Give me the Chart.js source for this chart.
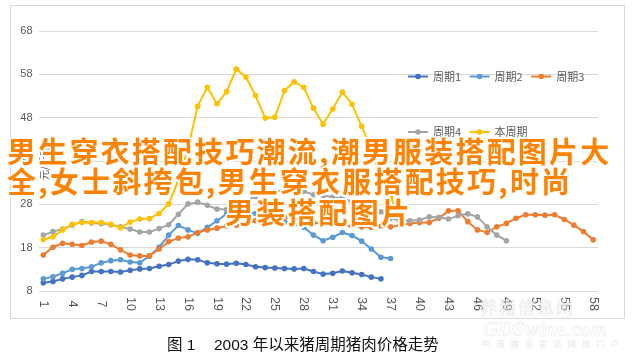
<!DOCTYPE html>
<html>
<head>
<meta charset="utf-8">
<script src="https://cdn.jsdelivr.net/npm/chart.js@4/dist/chart.umd.min.js"></script>
<style>
html,body{margin:0;padding:0;background:#fff;}
#wrap{position:relative;width:634px;height:358px;overflow:hidden;font-family:"Noto Sans CJK SC","Noto Sans",sans-serif;}
#frame{position:absolute;left:10px;top:5px;width:615px;height:314px;box-sizing:border-box;border:1px solid #d9d9d9;}
#c{position:absolute;left:0;top:0;}
.ov{position:absolute;white-space:nowrap;font-family:"Noto Sans CJK SC",sans-serif;font-weight:bold;font-size:29px;letter-spacing:2.2px;line-height:30px;color:#ff8200;
text-shadow:-1.5px -1.5px 0 #fff,1.5px -1.5px 0 #fff,-1.5px 1.5px 0 #fff,1.5px 1.5px 0 #fff,0 1.8px 0 #fff,0 -1.8px 0 #fff,1.8px 0 0 #fff,-1.8px 0 0 #fff;}
.cap{position:absolute;white-space:pre;font-family:"Liberation Sans","Noto Sans CJK SC",sans-serif;font-size:15.5px;line-height:20px;color:#111;}
.wm{position:absolute;white-space:nowrap;}
</style>
</head>
<body>
<div id="wrap">
  <div id="frame"></div>
  <canvas id="c" width="634" height="358"></canvas>
  <div class="wm" style="left:480px;top:294px;font-size:17px;letter-spacing:2px;color:rgba(255,255,255,0);-webkit-text-stroke:0.6px #e6e6e6;">养猪信息网</div>
  <div class="wm" style="left:483px;top:317px;font-family:'Liberation Serif',serif;font-style:italic;font-weight:bold;font-size:21px;color:rgba(255,255,255,0);-webkit-text-stroke:0.6px #ebebeb;">GDSwine.com</div>
  <div class="wm" style="left:482px;top:338px;font-size:8px;letter-spacing:6.3px;color:#e4e4e4;">中国猪业资讯网络门户</div>
  <div class="cap" style="left:167px;top:335px;">图 1</div>
  <div class="cap" style="left:214px;top:335px;">2003 年以来猪周期猪肉价格走势</div>
  <div class="ov" style="left:7px;top:135px;">男生穿衣搭配技巧潮流,潮男服装搭配图片大</div>
  <div class="ov" style="left:7px;top:165px;">全,女士斜挎包,男生穿衣服搭配技巧,时尚</div>
  <div class="ov" style="left:225px;top:195.5px;">男装搭配图片</div>
</div>
<script>
const categories = ['1','2','3','4','5','6','7','8','9','10','11','12','13','14','15','16','17','18','19','20',
  '21','22','23','24','25','26','27','28','29','30','31','32','33','34','35','36','37','38','39','40',
  '41','42','43','44','45','46','47','48','49','50','51','52','53','54','55','56','57','58'];
const xTickLabels = ['1','4','7','10','13','16','19','22','25','28','31','34','37','40','43','46','49','52','55','58'];
const yTicks = [8,18,28,38,48,58,68];
const seriesNames = ['周期1','周期2','周期3','周期4','本周期'];
const seriesColors = ['#4472C4','#5B9BD5','#ED7D31','#A5A5A5','#FFC000'];
const yAxisTitle = '元/千克';

const cycle1 = [9.9,10.2,10.8,11.2,11.6,12.5,12.5,12.5,12.4,12.8,13.1,13.2,13.7,14.1,14.9,15.3,15.2,14.5,14.3,14.2,
  14.4,14.1,13.6,13.4,13.3,13.2,13.1,13.2,12.5,11.9,12.1,12.6,12.2,11.8,11.2,10.8];
const cycle2 = [10.8,11.3,12.1,13.0,13.2,13.6,14.5,15.0,15.2,14.7,14.5,16.1,18.1,20.9,23.1,22.1,21.3,22.7,24.2,25.8,
  26.2,26.1,25.9,24.8,24.0,23.9,23.4,22.7,20.9,19.6,20.4,21.5,20.8,19.5,17.7,15.8,15.5];
const cycle3 = [16.3,18.1,19.0,18.8,18.5,19.3,19.5,18.8,17.5,16.3,16.1,16.1,17.7,19.4,20.2,20.5,21.5,22.1,22.5,23.0,
  23.2,23.6,24.2,24.5,24.6,25.0,24.8,24.3,23.8,23.4,23.2,23.0,23.0,22.8,22.7,23.0,22.8,23.2,23.6,23.8,
  23.8,24.8,26.5,26.5,24.0,22.1,21.5,22.8,23.6,24.8,25.6,25.6,25.5,25.6,24.5,23.2,21.7,19.8];
const cycle4 = [20.9,21.7,22.3,23.2,24.0,23.7,23.6,23.3,22.8,22.3,21.6,21.6,22.4,23.3,25.7,28.1,28.5,27.8,26.9,26.8,
  27.8,28.8,29.8,30.5,31.0,31.2,31.4,31.0,30.2,30.0,29.7,29.4,28.6,27.8,27.1,26.3,24.8,24.2,24.2,24.4,
  25.1,25.0,24.6,25.4,25.8,25.1,22.8,20.9,19.6];
const currentCycle = [19.9,20.5,22.1,23.4,23.8,23.8,23.8,23.4,22.6,23.9,24.6,24.7,25.9,28.1,33.5,41.0,50.6,55.0,51.2,54.0,
  59.2,57.4,53.1,47.9,48.1,54.2,56.3,55.0,50.2,46.5,50.0,53.9,51.1,46.0,40.9,34.0,29.6,25.0];

const seriesData = [cycle1, cycle2, cycle3, cycle4, currentCycle];

const xLabelPlugin = {
  id: 'xLabels',
  afterDraw(chart) {
    const s = chart.scales.x, ctx = chart.ctx;
    ctx.save();
    ctx.font = '12.5px "Liberation Sans", sans-serif';
    ctx.fillStyle = '#595959';
    ctx.textAlign = 'center';
    ctx.textBaseline = 'middle';
    xTickLabels.forEach(lab => {
      const idx = categories.indexOf(lab);
      const x = s.getPixelForValue(idx);
      ctx.save();
      ctx.translate(x, chart.chartArea.bottom + 13);
      ctx.rotate(Math.PI / 2);
      ctx.fillText(lab, 0, 0);
      ctx.restore();
    });
    ctx.font = '10px "Noto Sans CJK SC", sans-serif';
    ctx.save();
    ctx.translate(chart.chartArea.left + 6, 163);
    ctx.rotate(-Math.PI / 2);
    ctx.fillText(yAxisTitle, 0, 0);
    ctx.restore();
    ctx.restore();
  }
};

const legendPlugin = {
  id: 'customLegend',
  afterDraw(chart) {
    const ctx = chart.ctx;
    const rows = [[0, 1, 2], [3, 4]];
    const rowY = [76.5, 132];
    ctx.save();
    ctx.font = '11px "Noto Sans CJK SC", sans-serif';
    ctx.textBaseline = 'middle';
    ctx.textAlign = 'left';
    rows.forEach((row, r) => {
      let x0 = 408;
      row.forEach(i => {
        const ds = chart.data.datasets[i];
        const y = rowY[r];
        ctx.strokeStyle = ds.borderColor;
        ctx.lineWidth = 2;
        ctx.beginPath(); ctx.moveTo(x0, y); ctx.lineTo(x0 + 20, y); ctx.stroke();
        ctx.fillStyle = ds.borderColor;
        ctx.beginPath(); ctx.arc(x0 + 10, y, 2.8, 0, Math.PI * 2); ctx.fill();
        ctx.fillStyle = '#595959';
        ctx.fillText(ds.label, x0 + 25, y);
        const w = ctx.measureText(ds.label).width;
        x0 += 20 + 5.5 + w + 8;
      });
    });
    ctx.restore();
  }
};

new Chart(document.getElementById('c'), {
  type: 'line',
  data: {
    labels: categories,
    datasets: seriesData.map((d, i) => ({
      label: seriesNames[i],
      data: d,
      borderColor: seriesColors[i],
      backgroundColor: seriesColors[i],
      pointBackgroundColor: seriesColors[i],
      pointBorderWidth: 0,
      pointRadius: 2.8,
      borderWidth: 2,
      tension: 0,
      fill: false,
      order: 5 - i
    }))
  },
  options: {
    responsive: false,
    animation: false,
    devicePixelRatio: 1,
    layout: { padding: { left: 0, right: 36, top: 31, bottom: 67 } },
    plugins: { legend: { display: false }, tooltip: { enabled: false }, title: { display: false } },
    scales: {
      x: { type: 'category', display: false, offset: true },
      y: {
        min: 8, max: 68,
        afterBuildTicks(s) { s.ticks = yTicks.map(v => ({ value: v })); },
        afterFit(s) { s.width = 38.5; },
        ticks: { color: '#595959', font: { size: 11, family: '"Liberation Sans", sans-serif' }, padding: 6 },
        grid: { color: '#d9d9d9', lineWidth: 1, drawTicks: false },
        border: { display: false }
      }
    }
  },
  plugins: [xLabelPlugin, legendPlugin]
});
</script>
</body>
</html>
